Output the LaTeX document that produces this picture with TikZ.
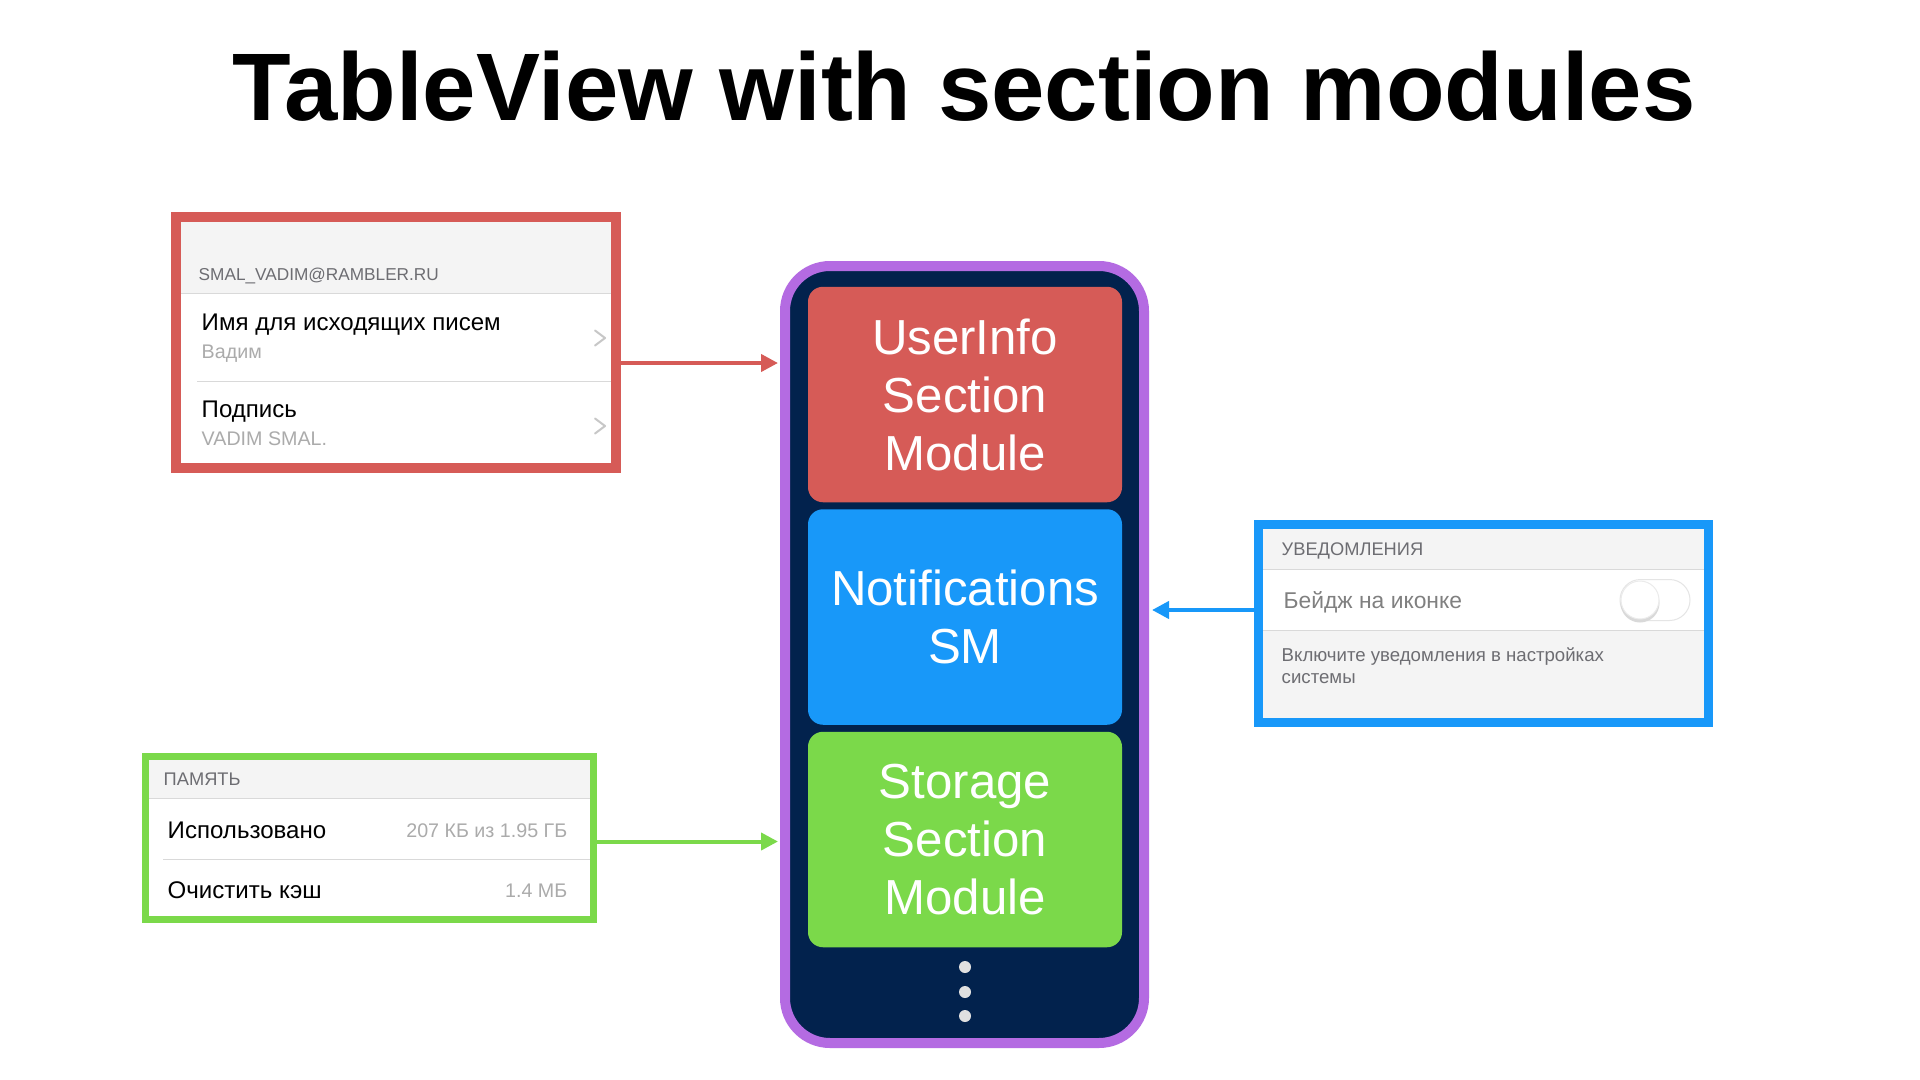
\documentclass[tikz,border=0pt]{standalone}
\usepackage{fontspec}
\setmainfont{Liberation Sans}
\usetikzlibrary{positioning,arrows.meta}
\definecolor{cred}{HTML}{D65B57}
\definecolor{cblue}{HTML}{1898F9}
\definecolor{cgreen}{HTML}{7BD94A}
\definecolor{cpurple}{HTML}{B46BE2}
\definecolor{cnavy}{HTML}{02224D}
\definecolor{uigray}{HTML}{F4F4F4}
\definecolor{sepgray}{HTML}{D9D9D9}
\definecolor{capgray}{HTML}{6D6D72}
\definecolor{valgray}{HTML}{ABABAB}
\tikzset{
  module/.style={minimum width=31.4mm, minimum height=21.55mm, rounded corners=1.5mm, text=white, align=center, inner sep=0pt, outer sep=0pt, font=\fontsize{14}{16.5}\selectfont},
  caption/.style={anchor=base west, inner sep=0pt, text=capgray, font=\fontsize{5}{6.2}\selectfont},
  rowtext/.style={anchor=base west, inner sep=0pt, font=\fontsize{6.85}{8}\selectfont},
  subtext/.style={anchor=base west, inner sep=0pt, text=valgray, font=\fontsize{5.6}{6.5}\selectfont},
  valtext/.style={anchor=base east, inner sep=0pt, text=valgray, font=\fontsize{5.6}{6.5}\selectfont},
  chev/.style={draw=black!22, line width=0.2mm, line cap=round, line join=round},
  rowsep/.style={draw=sepgray, line width=0.1mm},
  link/.style={draw=#1, line width=0.4mm, -{Triangle[length=1.7mm, width=1.7mm]}}
}
\begin{document}
\begin{tikzpicture}[x=1mm,y=-1mm]
\useasboundingbox[fill=white] (0,0) rectangle (192,108);
\node[anchor=base, inner sep=0pt, font=\fontsize{27.3}{33}\selectfont\bfseries] (title) at (96.4,12.0) {TableView with section modules};

% phone with the section modules
\node[draw=cpurple, line width=1mm, fill=cnavy, rounded corners=4.5mm, minimum width=35.9mm, minimum height=77.7mm] (phone) at (96.45,65.45) {};
\node[module, fill=cred] (usermod) at (96.5,39.45) {UserInfo\\Section\\Module};
\node[module, fill=cblue, below=0.7mm of usermod] (notifmod) {Notifications\\SM};
\node[module, fill=cgreen, below=0.7mm of notifmod] (storagemod) {Storage\\Section\\Module};
\foreach \y in {96.7,99.2,101.6}
  \fill[black!12] (96.5,\y) circle (0.6mm);

% user info screenshot
\fill[uigray] (18.1,22.2) rectangle (61.1,29.3);
\draw[rowsep] (18.1,29.3) -- (61.1,29.3);
\draw[rowsep] (19.7,38.1) -- (61.1,38.1);
\node[rowtext] (mailhdr) at (19.8,28.0) {\color{capgray}\fontsize{4.9}{6}\selectfont SMAL\_VADIM@RAMBLER.RU};
\node[rowtext] (namerow) at (20.1,33.0) {Имя для исходящих писем};
\node[subtext] (nameval) at (20.1,35.8) {Вадим};
\draw[chev] (59.5,33.05) -- (60.5,33.8) -- (59.5,34.55);
\node[rowtext] (signrow) at (20.1,41.7) {Подпись};
\node[subtext] (signval) at (20.1,44.5) {VADIM SMAL.};
\draw[chev] (59.5,41.85) -- (60.5,42.6) -- (59.5,43.35);
\node[draw=cred, line width=1mm, minimum width=44mm, minimum height=25.1mm, inner sep=0pt] (userpanel) at (39.6,34.25) {};

% notifications screenshot
\fill[uigray] (126.3,52.9) rectangle (170.4,56.9);
\fill[uigray] (126.3,63.0) rectangle (170.4,71.8);
\draw[rowsep] (126.3,56.9) -- (170.4,56.9);
\draw[rowsep] (126.3,63.0) -- (170.4,63.0);
\node[caption, font=\fontsize{5.2}{6.2}\selectfont] (notifhdr) at (128.1,55.5) {УВЕДОМЛЕНИЯ};
\node[rowtext, text=black!50, font=\fontsize{6.5}{7.5}\selectfont] (badgerow) at (128.3,60.8) {Бейдж на иконке};
\draw[draw=black!10, fill=white, rounded corners=2.05mm, line width=0.1mm] (162,57.95) rectangle (169,62.05);
\fill[black!15] (164,60.3) circle (1.95mm);
\draw[draw=black!8, fill=white, line width=0.1mm] (164,60) circle (1.9mm);
\node[caption, align=left, font=\fontsize{5.3}{6}\selectfont] (notifhint) at (128.1,68.3) {Включите уведомления в настройках\\системы};
\node[draw=cblue, line width=0.9mm, minimum width=45mm, minimum height=19.8mm, inner sep=0pt] (notifpanel) at (148.35,62.35) {};

% storage screenshot
\fill[uigray] (14.9,76.0) rectangle (59.0,79.8);
\draw[rowsep] (14.9,79.8) -- (59.0,79.8);
\draw[rowsep] (16.3,85.9) -- (59.0,85.9);
\node[caption, font=\fontsize{5.2}{6.2}\selectfont] (storagehdr) at (16.3,78.5) {ПАМЯТЬ};
\node[rowtext] (usedrow) at (16.7,83.8) {Использовано};
\node[valtext] (usedval) at (56.8,83.75) {207 КБ из 1.95 ГБ};
\node[rowtext] (cacherow) at (16.7,89.8) {Очистить кэш};
\node[valtext] (cacheval) at (56.8,89.75) {1.4 МБ};
\node[draw=cgreen, line width=0.7mm, minimum width=44.8mm, minimum height=16.3mm, inner sep=0pt] (storagepanel) at (36.95,83.8) {};

% arrows into the phone
\coordinate (userlink) at (70,36.3);
\coordinate (notiflink) at (120,61.0);
\coordinate (storagelink) at (70,84.15);
\draw[link=cred] (userpanel.east |- userlink) -- ([xshift=-0.2mm]phone.west |- userlink);
\draw[link=cblue] (notifpanel.west |- notiflink) -- ([xshift=0.3mm]phone.east |- notiflink);
\draw[link=cgreen] (storagepanel.east |- storagelink) -- ([xshift=-0.2mm]phone.west |- storagelink);
\end{tikzpicture}
\end{document}
